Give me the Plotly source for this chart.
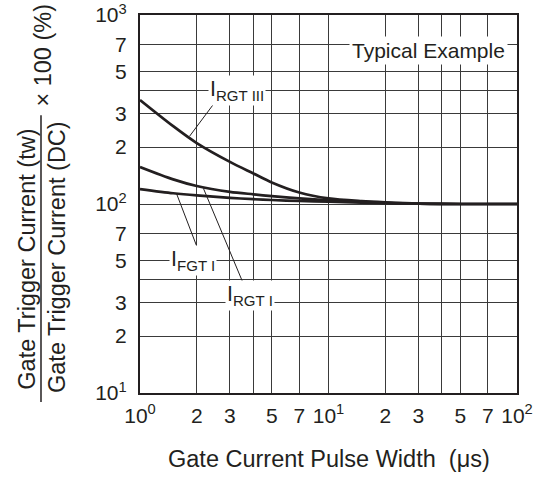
import math
import plotly.graph_objects as go

# ---- data ----
pulse_width_us = [1, 1.5, 2, 3, 4, 5, 7, 10, 15, 20, 30, 50, 100]
irgt_iii = [355, 258, 210, 167, 145, 130, 115, 107, 103.5, 102, 100.5, 100, 100]
irgt_i = [157, 135, 124.5, 116, 112.5, 110, 107, 104.6, 102.5, 101.5, 100.4, 100, 100]
ifgt_i = [120, 114, 111, 107.8, 106, 105, 103.7, 102.8, 101.7, 101, 100.3, 100, 100]

tick_vals = [1, 2, 3, 4, 5, 7, 10, 20, 30, 40, 50, 70, 100]
x_tick_text = ["10<sup>0</sup>", "2", "3", "", "5", "7", "10<sup>1</sup>",
               "2", "3", "", "5", "7", "10<sup>2</sup>"]
y_tick_vals = [10, 20, 30, 40, 50, 70, 100, 200, 300, 400, 500, 700, 1000]
y_tick_text = ["10<sup>1</sup>", "2", "3", "", "5", "7", "10<sup>2</sup>",
               "2", "3", "", "5", "7", "10<sup>3</sup>"]

# curve labels: (text, label x, label y, leader start x, y, leader end x, y)
label_names = ["I<sub>RGT III</sub>", "I<sub>FGT I</sub>", "I<sub>RGT I</sub>"]
label_x = [3.27, 1.90, 3.83]
label_y = [401, 50.5, 33]
leader_start_x = [2.55, 2.01, 3.53]
leader_start_y = [355, 59, 38]
leader_end_x = [1.83, 1.56, 2.17]
leader_end_y = [228, 114, 121]

INK = "#231f20"
FONT = "Liberation Sans, Arial, Helvetica, sans-serif"

fig = go.Figure()

for ys in (irgt_iii, irgt_i, ifgt_i):
    fig.add_trace(go.Scatter(x=pulse_width_us, y=ys, mode="lines",
                             line=dict(color=INK, width=2.7, shape="spline", smoothing=0.8),
                             hoverinfo="skip", showlegend=False))

for i in range(len(label_names)):
    fig.add_trace(go.Scatter(x=[leader_start_x[i], leader_end_x[i]],
                             y=[leader_start_y[i], leader_end_y[i]],
                             mode="lines", line=dict(color=INK, width=1),
                             hoverinfo="skip", showlegend=False))
    fig.add_annotation(x=math.log10(label_x[i]), y=math.log10(label_y[i]),
                       xref="x", yref="y", text=label_names[i], showarrow=False,
                       font=dict(family=FONT, size=21.5, color=INK),
                       bgcolor="white", borderpad=1, xanchor="center", yanchor="middle")

fig.add_annotation(x=0.975, y=0.905, xref="paper", yref="paper",
                   text="Typical Example", showarrow=False,
                   font=dict(family=FONT, size=21, color=INK),
                   bgcolor="white", borderpad=2, xanchor="right", yanchor="middle")

# y-axis title as a fraction
fig.add_annotation(x=-0.302, y=0.353, xref="paper", yref="paper",
                   text="Gate Trigger Current (tw)", textangle=-90, showarrow=False,
                   font=dict(family=FONT, size=23.5, color=INK),
                   xanchor="center", yanchor="middle")
fig.add_annotation(x=-0.220, y=0.360, xref="paper", yref="paper",
                   text="Gate Trigger Current (DC)", textangle=-90, showarrow=False,
                   font=dict(family=FONT, size=23.5, color=INK),
                   xanchor="center", yanchor="middle")
fig.add_annotation(x=-0.257, y=0.893, xref="paper", yref="paper",
                   text="× 100 (%)", textangle=-90, showarrow=False,
                   font=dict(family=FONT, size=23.5, color=INK),
                   xanchor="center", yanchor="middle")
fig.add_shape(type="line", xref="paper", yref="paper",
              x0=-0.2626, x1=-0.2626, y0=-0.024, y1=0.735,
              line=dict(color=INK, width=1.5))

# x-axis title
fig.add_annotation(x=0.5, y=-0.175, xref="paper", yref="paper",
                   text="Gate Current Pulse Width&nbsp; (μs)", showarrow=False,
                   font=dict(family=FONT, size=23.5, color=INK),
                   xanchor="center", yanchor="middle")

axis_common = dict(type="log", showline=True, mirror=True, linecolor=INK, linewidth=2.2,
                   showgrid=True, gridcolor="#3a3a3a", gridwidth=1, ticks="",
                   zeroline=False, automargin=False,
                   tickfont=dict(family=FONT, size=21, color=INK))

fig.update_xaxes(range=[0, 2], tickvals=tick_vals, ticktext=x_tick_text,
                 ticklabelstandoff=3, **axis_common)
fig.update_yaxes(range=[1, 3], tickvals=y_tick_vals, ticktext=y_tick_text,
                 ticklabelstandoff=7, **axis_common)

fig.update_layout(width=540, height=477, margin=dict(l=140, r=23, t=15, b=84),
                  paper_bgcolor="white", plot_bgcolor="white",
                  font=dict(family=FONT, color=INK), showlegend=False)

# remove the page's default body margin so the figure sits at the window origin
fig.write_html("out.html", config={"displayModeBar": False},
               post_script="document.body.style.margin='0px';")
